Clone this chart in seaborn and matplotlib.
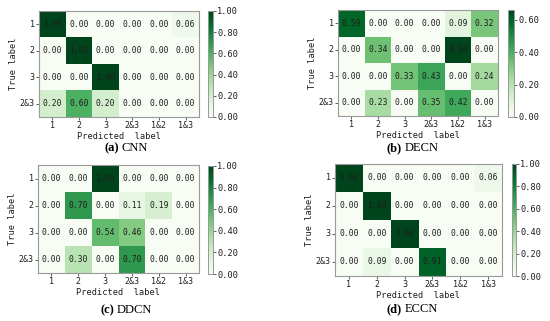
import numpy as np
import pandas as pd
import matplotlib
matplotlib.use("Agg")
import matplotlib.pyplot as plt
import seaborn as sns

true_labels = ["1", "2", "3", "2&3"]
pred_labels = ["1", "2", "3", "2&3", "1&2", "1&3"]

cnn = [[1.00, 0.00, 0.00, 0.00, 0.00, 0.06],
       [0.00, 1.00, 0.00, 0.00, 0.00, 0.00],
       [0.00, 0.00, 1.00, 0.00, 0.00, 0.00],
       [0.20, 0.60, 0.20, 0.00, 0.00, 0.00]]
decn = [[0.59, 0.00, 0.00, 0.00, 0.09, 0.32],
        [0.00, 0.34, 0.00, 0.00, 0.66, 0.00],
        [0.00, 0.00, 0.33, 0.43, 0.00, 0.24],
        [0.00, 0.23, 0.00, 0.35, 0.42, 0.00]]
ddcn = [[0.00, 0.00, 1.00, 0.00, 0.00, 0.00],
        [0.00, 0.70, 0.00, 0.11, 0.19, 0.00],
        [0.00, 0.00, 0.54, 0.46, 0.00, 0.00],
        [0.00, 0.30, 0.00, 0.70, 0.00, 0.00]]
eccn = [[1.00, 0.00, 0.00, 0.00, 0.00, 0.06],
        [0.00, 1.00, 0.00, 0.00, 0.00, 0.00],
        [0.00, 0.00, 1.00, 0.00, 0.00, 0.00],
        [0.00, 0.09, 0.00, 0.91, 0.00, 0.00]]

captions = [("(a)", "CNN"), ("(b)", "DECN"), ("(c)", "DDCN"), ("(d)", "ECCN")]

W, H = 550, 321

# pixel boxes (left, top, right, bottom) for heatmap and colorbar
layout = [
    ((39, 11, 199, 117), (208, 11, 213, 117), (119, 148)),
    ((338, 10, 498, 116), (508, 10, 514, 117), (402, 148)),
    ((38, 165, 199, 273), (208, 166, 213, 274), (114, 310)),
    ((335, 164, 502, 276), (512, 164, 516, 276), (402, 309)),
]

mono = "DejaVu Sans Mono"
plt.rcParams["font.family"] = mono
txt = "#1e1e1e"

def box(l, t, r, b):
    return [l / W, 1 - b / H, (r - l) / W, (b - t) / H]

fig = plt.figure(figsize=(5.5, 3.21), dpi=100)

for mat, (hm, cb, cap), (tag, name) in zip([cnn, decn, ddcn, eccn], layout, captions):
    df = pd.DataFrame(mat, index=true_labels, columns=pred_labels)
    ax = fig.add_axes(box(*hm))
    cax = fig.add_axes(box(*cb))
    sns.heatmap(df, ax=ax, cbar_ax=cax, cmap="Greens", vmin=0, vmax=df.values.max(),
                annot=True, fmt=".2f", annot_kws={"size": 5.8, "color": txt})
    ax.set_xlabel("Predicted  label", fontsize=6.2, labelpad=1, color=txt)
    ax.set_ylabel("True label", fontsize=6.2, labelpad=1, color=txt)
    ax.tick_params(labelsize=6, length=2, width=0.5, pad=1, colors=txt)
    ax.set_yticklabels(true_labels, rotation=0)
    ax.set_xticklabels(pred_labels, rotation=0)
    for s in ax.spines.values():
        s.set_visible(True)
        s.set_color("#999999")
        s.set_linewidth(0.8)
    cax.tick_params(labelsize=6.2, length=2, width=0.5, pad=1, colors=txt)
    cax.yaxis.set_major_formatter(matplotlib.ticker.FormatStrFormatter("%.2f"))
    cax.yaxis.set_major_locator(matplotlib.ticker.MultipleLocator(0.2))
    for s in cax.spines.values():
        s.set_visible(True)
        s.set_color("#999999")
        s.set_linewidth(0.6)
    x, y = cap
    fig.text(x / W, 1 - y / H, tag, ha="right", va="center", fontsize=9,
             fontweight="bold", family="Liberation Serif")
    fig.text((x + 2.5) / W, 1 - y / H, name, ha="left", va="center", fontsize=9,
             family="Liberation Serif")

fig.savefig("out.png", dpi=100)
